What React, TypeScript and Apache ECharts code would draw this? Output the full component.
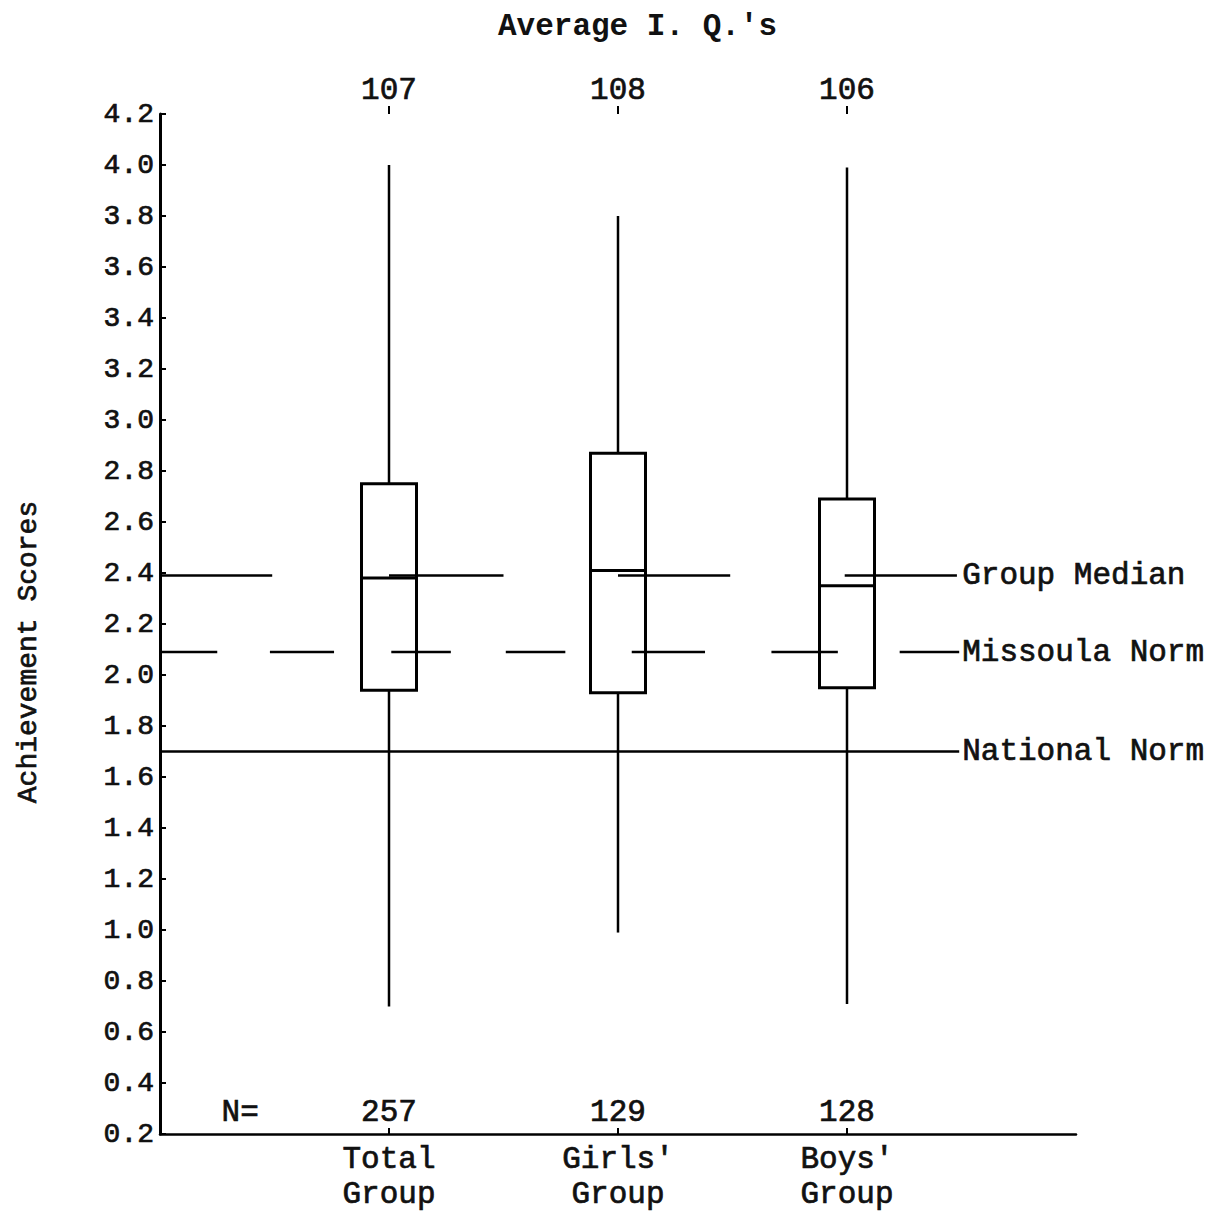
import React, { useEffect, useRef } from "react";
import * as echarts from "echarts";

const categories = ["Total\nGroup", "Girls'\nGroup", "Boys'\nGroup"];
const categoryPositions = [1, 2, 3];
const averageIQ = [107, 108, 106];
const sampleSizes = [257, 129, 128];
const lowValues = [0.7, 0.99, 0.71];
const q1Values = [1.94, 1.93, 1.95];
const medianValues = [2.38, 2.41, 2.35];
const q3Values = [2.75, 2.87, 2.69];
const highValues = [4.0, 3.8, 3.99];

const groupMedian = 2.39;
const missoulaNorm = 2.09;
const nationalNorm = 1.7;

const groupMedianSegments = [
  [0, 0.49],
  [1, 1.5],
  [2, 2.49],
  [2.99, 3.48],
];
const missoulaSegments = [
  [0, 0.25],
  [0.48, 0.76],
  [1.01, 1.27],
  [1.51, 1.77],
  [2.06, 2.38],
  [2.67, 2.96],
  [3.23, 3.49],
];
const nationalSegments = [[0, 3.49]];

const referenceLabels = ["Group Median", "Missoula Norm", "National Norm"];
const referenceValues = [groupMedian, missoulaNorm, nationalNorm];

const yTicksMin = 0.2;
const yTicksMax = 4.2;
const yTickStep = 0.2;

const FONT = "'Liberation Mono', 'DejaVu Sans Mono', monospace";
const INK = "#111";
const thick = { textBorderColor: INK, textBorderWidth: 0.7 };

export default function App() {
  const ref = useRef<HTMLDivElement>(null);
  useEffect(() => {
    if (!ref.current) return;
    const chart = echarts.init(ref.current, undefined, { renderer: "svg" });

    const boxData = categoryPositions.map((x, i) => [
      x,
      lowValues[i],
      q1Values[i],
      medianValues[i],
      q3Values[i],
      highValues[i],
    ]);

    const segData = [
      ...groupMedianSegments.map((s) => [s[0], s[1], groupMedian]),
      ...missoulaSegments.map((s) => [s[0], s[1], missoulaNorm]),
      ...nationalSegments.map((s) => [s[0], s[1], nationalNorm]),
    ];

    const option: any = {
      animation: false,
      backgroundColor: "#fff",
      title: {
        text: "Average I. Q.'s",
        left: 493,
        top: 6,
        textStyle: {
          fontFamily: FONT,
          fontSize: 31,
          fontWeight: "bold",
          color: INK,
        },
      },
      grid: {
        left: 160,
        right: 149,
        top: 114,
        bottom: 77,
        containLabel: false,
        outerBoundsMode: "none",
      },
      xAxis: [
        {
          type: "value",
          min: 0,
          max: 4,
          interval: 1,
          position: "bottom",
          splitLine: { show: false },
          axisLine: { show: true, lineStyle: { color: "#000", width: 2.5 } },
          axisTick: {
            show: true,
            inside: true,
            length: 6,
            customValues: categoryPositions,
            lineStyle: { color: "#000", width: 2 },
          },
          axisLabel: {
            customValues: categoryPositions,
            formatter: (v: number) => {
              const i = categoryPositions.indexOf(v);
              return i >= 0 ? categories[i] : "";
            },
            fontFamily: FONT,
            fontSize: 31,
            lineHeight: 35,
            color: INK,
            margin: 8,
            ...thick,
          },
        },
        {
          type: "value",
          min: 0,
          max: 4,
          interval: 1,
          position: "top",
          splitLine: { show: false },
          axisLine: { show: false },
          axisTick: {
            show: true,
            inside: false,
            length: 8,
            customValues: categoryPositions,
            lineStyle: { color: "#000", width: 2 },
          },
          axisLabel: {
            customValues: categoryPositions,
            formatter: (v: number) => {
              const i = categoryPositions.indexOf(v);
              return i >= 0 ? String(averageIQ[i]) : "";
            },
            fontFamily: FONT,
            fontSize: 31,
            color: INK,
            margin: 8,
            ...thick,
          },
        },
      ],
      yAxis: {
        type: "value",
        min: yTicksMin,
        max: yTicksMax,
        interval: yTickStep,
        name: "Achievement Scores",
        nameLocation: "middle",
        nameGap: 118,
        nameTextStyle: {
          fontFamily: FONT,
          fontSize: 28,
          color: INK,
          padding: [0, 56, 0, 0],
          ...thick,
        },
        splitLine: { show: false },
        axisLine: { show: true, lineStyle: { color: "#000", width: 3 } },
        axisTick: { show: true, inside: true, length: 6, lineStyle: { color: "#000", width: 2 } },
        axisLabel: {
          formatter: (v: number) => v.toFixed(1),
          fontFamily: FONT,
          fontSize: 28,
          color: INK,
          margin: 6,
          ...thick,
        },
      },
      series: [
        {
          type: "custom",
          name: "reference lines",
          coordinateSystem: "cartesian2d",
          xAxisIndex: 0,
          yAxisIndex: 0,
          data: segData,
          silent: true,
          renderItem: (params: any, api: any) => {
            const a = api.coord([api.value(0), api.value(2)]);
            const b = api.coord([api.value(1), api.value(2)]);
            return {
              type: "line",
              shape: { x1: a[0], y1: a[1], x2: b[0], y2: b[1] },
              style: { stroke: "#000", lineWidth: 2.5 },
            };
          },
        },
        {
          type: "custom",
          name: "boxes",
          coordinateSystem: "cartesian2d",
          xAxisIndex: 0,
          yAxisIndex: 0,
          data: boxData,
          silent: true,
          renderItem: (params: any, api: any) => {
            const x = api.value(0);
            const pLow = api.coord([x, api.value(1)]);
            const pQ1 = api.coord([x, api.value(2)]);
            const pMed = api.coord([x, api.value(3)]);
            const pQ3 = api.coord([x, api.value(4)]);
            const pHigh = api.coord([x, api.value(5)]);
            const half = 27.5;
            return {
              type: "group",
              children: [
                {
                  type: "line",
                  shape: { x1: pLow[0], y1: pLow[1], x2: pQ1[0], y2: pQ1[1] },
                  style: { stroke: "#000", lineWidth: 2.5 },
                },
                {
                  type: "line",
                  shape: { x1: pQ3[0], y1: pQ3[1], x2: pHigh[0], y2: pHigh[1] },
                  style: { stroke: "#000", lineWidth: 2.5 },
                },
                {
                  type: "rect",
                  shape: {
                    x: pQ3[0] - half,
                    y: pQ3[1],
                    width: half * 2,
                    height: pQ1[1] - pQ3[1],
                  },
                  style: { fill: "none", stroke: "#000", lineWidth: 3 },
                },
                {
                  type: "line",
                  shape: { x1: pMed[0] - half, y1: pMed[1], x2: pMed[0] + half, y2: pMed[1] },
                  style: { stroke: "#000", lineWidth: 3 },
                },
              ],
            };
          },
        },
        {
          type: "scatter",
          name: "reference labels",
          xAxisIndex: 0,
          yAxisIndex: 0,
          symbolSize: 0,
          silent: true,
          itemStyle: { opacity: 1 },
          data: referenceValues.map((v, i) => ({ value: [3.49, v], name: referenceLabels[i] })),
          label: {
            show: true,
            position: "right",
            distance: 3,
            formatter: (p: any) => p.name,
            fontFamily: FONT,
            fontSize: 31,
            color: INK,
            ...thick,
          },
        },
        {
          type: "scatter",
          name: "sample sizes",
          xAxisIndex: 0,
          yAxisIndex: 0,
          symbolSize: 0,
          silent: true,
          itemStyle: { opacity: 1 },
          data: [
            { value: [0.35, yTicksMin], name: "N=" },
            ...categoryPositions.map((x, i) => ({ value: [x, yTicksMin], name: String(sampleSizes[i]) })),
          ],
          label: {
            show: true,
            position: "top",
            distance: 6,
            formatter: (p: any) => p.name,
            fontFamily: FONT,
            fontSize: 31,
            color: INK,
            ...thick,
          },
        },
      ],
    };
    chart.setOption(option);
    return () => chart.dispose();
  }, []);
  return (
    <div
      ref={ref}
      style={{ position: "absolute", left: 0, top: 0, width: 1225, height: 1211 }}
    />
  );
}
